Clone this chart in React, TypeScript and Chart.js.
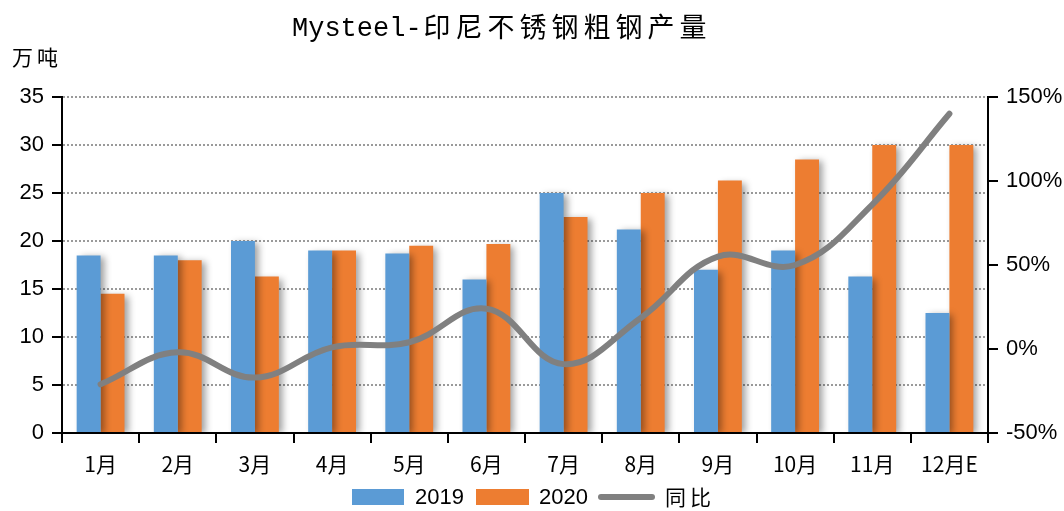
import React, { useEffect, useRef } from "react";
import { Chart, registerables } from "chart.js";

Chart.register(...registerables);

const categories = ["1月", "2月", "3月", "4月", "5月", "6月", "7月", "8月", "9月", "10月", "11月", "12月E"];
const series2019 = [18.5, 18.5, 20, 19, 18.7, 16, 25, 21.2, 17, 19, 16.3, 12.5];
const series2020 = [14.5, 18, 16.3, 19, 19.5, 19.7, 22.5, 25, 26.3, 28.5, 30, 30];
const yoy = [-0.21, -0.02, -0.17, 0.01, 0.04, 0.24, -0.09, 0.185, 0.55, 0.5, 0.86, 1.4];
const titleLatin = "Mysteel-";
const titleCJK = "印尼不锈钢粗钢产量";
const unitLabel = "万吨";
const legendLabels = ["2019", "2020", "同比"];

const BLUE = "#5B9BD5";
const ORANGE = "#ED7D31";
const GRAY = "#808080";

const decorPlugin = {
  id: "decor",
  beforeDatasetDraw(chart: any, args: any) {
    const ds = chart.data.datasets[args.index];
    if (ds.type === "bar") {
      const ctx = chart.ctx;
      ctx.save();
      ctx.shadowColor = "rgba(0,0,0,0.38)";
      ctx.shadowBlur = 7;
      ctx.shadowOffsetX = 4;
      ctx.shadowOffsetY = 2;
    }
  },
  afterDatasetDraw(chart: any, args: any) {
    const ds = chart.data.datasets[args.index];
    if (ds.type === "bar") {
      chart.ctx.restore();
    }
  },
  afterDraw(chart: any) {
    const ctx = chart.ctx;
    ctx.save();
    // title
    ctx.fillStyle = "#000";
    ctx.textBaseline = "alphabetic";
    ctx.textAlign = "left";
    ctx.font = '27px "Liberation Mono"';
    ctx.fillText(titleLatin, 292, 36);
    const w = ctx.measureText(titleLatin).width;
    ctx.font = '27px "Noto Sans CJK SC"';
    (ctx as any).letterSpacing = "5px";
    ctx.fillText(titleCJK, 292 + w + 2, 37);
    // unit
    ctx.font = '21px "Noto Sans CJK SC"';
    (ctx as any).letterSpacing = "4px";
    ctx.textBaseline = "middle";
    ctx.fillText(unitLabel, 12, 57);
    (ctx as any).letterSpacing = "0px";
    // legend
    const ly = 497;
    ctx.fillStyle = BLUE;
    ctx.fillRect(352, ly - 8, 52, 16);
    ctx.fillStyle = ORANGE;
    ctx.fillRect(476, ly - 8, 53, 16);
    ctx.strokeStyle = GRAY;
    ctx.lineWidth = 6;
    ctx.lineCap = "round";
    ctx.beginPath();
    ctx.moveTo(601, ly);
    ctx.lineTo(652, ly);
    ctx.stroke();
    ctx.fillStyle = "#000";
    ctx.font = '22px "Liberation Sans"';
    ctx.fillText(legendLabels[0], 415, ly + 1);
    ctx.fillText(legendLabels[1], 539, ly + 1);
    ctx.font = '21px "Noto Sans CJK SC"';
    (ctx as any).letterSpacing = "4px";
    ctx.fillText(legendLabels[2], 665, ly);
    ctx.restore();
  },
};

export default function App() {
  const ref = useRef<HTMLCanvasElement>(null);
  useEffect(() => {
    document.body.style.margin = "0";
    const canvas = ref.current!;
    const chart = new Chart(canvas, {
      type: "bar",
      data: {
        labels: categories,
        datasets: [
          {
            type: "line",
            label: legendLabels[2],
            data: yoy,
            yAxisID: "y1",
            borderColor: GRAY,
            backgroundColor: GRAY,
            borderWidth: 6,
            borderCapStyle: "round",
            pointRadius: 0,
            tension: 0.4,
            order: 0,
          } as any,
          {
            type: "bar",
            label: legendLabels[0],
            data: series2019,
            yAxisID: "y",
            backgroundColor: BLUE,
            categoryPercentage: 0.62,
            barPercentage: 1,
            order: 1,
          },
          {
            type: "bar",
            label: legendLabels[1],
            data: series2020,
            yAxisID: "y",
            backgroundColor: ORANGE,
            categoryPercentage: 0.62,
            barPercentage: 1,
            order: 1,
          },
        ],
      },
      options: {
        responsive: false,
        animation: false,
        devicePixelRatio: 1,
        layout: { padding: { top: 97, left: 0, right: 0, bottom: 0 } },
        plugins: {
          legend: { display: false },
          title: { display: false },
          tooltip: { enabled: false },
        },
        scales: {
          x: {
            offset: true,
            afterFit(scale: any) {
              scale.height = 78;
            },
            grid: {
              display: true,
              offset: true,
              drawOnChartArea: false,
              color: "#000",
              lineWidth: 2,
              tickLength: 10,
            },
            border: { display: true, color: "#000", width: 2 },
            ticks: {
              color: "#000",
              font: { family: "Noto Sans CJK SC", size: 21 },
              padding: 8,
              maxRotation: 0,
              autoSkip: false,
            },
          },
          y: {
            position: "left",
            min: 0,
            max: 35,
            afterFit(scale: any) {
              scale.width = 62;
            },
            grid: {
              color: "#9a9a9a",
              lineWidth: 2,
              tickColor: "#000",
              tickLength: 10,
              tickBorderDash: [],
              tickWidth: 2,
            } as any,
            border: { display: true, color: "#000", width: 2, dash: [2, 2] },
            ticks: {
              stepSize: 5,
              color: "#000",
              font: { family: "Liberation Sans", size: 22 },
              padding: 8,
            },
          },
          y1: {
            position: "right",
            min: -0.5,
            max: 1.5,
            afterFit(scale: any) {
              scale.width = 76;
            },
            grid: {
              drawOnChartArea: false,
              color: "#000",
              lineWidth: 2,
              tickLength: 10,
            },
            border: { display: true, color: "#000", width: 2 },
            ticks: {
              stepSize: 0.5,
              color: "#000",
              font: { family: "Liberation Sans", size: 22 },
              padding: 8,
              callback: (v: any) => `${Math.round(Number(v) * 100)}%`,
            },
          },
        },
      },
      plugins: [decorPlugin],
    });
    return () => chart.destroy();
  }, []);
  return (
    <div style={{ position: "absolute", left: 0, top: 0, width: 1064, height: 511 }}>
      <canvas ref={ref} width={1064} height={511} style={{ display: "block" }} />
    </div>
  );
}
